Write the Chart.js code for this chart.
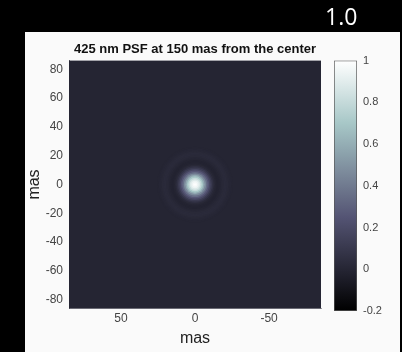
<!DOCTYPE html>
<html>
<head>
<meta charset="utf-8">
<script src="https://cdn.jsdelivr.net/npm/chart.js@4"></script>
<style>
  html, body { margin: 0; padding: 0; background: #000; }
  #wrap { position: relative; width: 402px; height: 352px; overflow: hidden; background: #000; }
  #panel { position: absolute; left: 25px; top: 32px; width: 375px; height: 320px; background: #fafafa; }
  canvas { position: absolute; }
  #psf { left: 0; top: 0; }
  #cbar { left: 334px; top: 48px; }
  #tag { position: absolute; left: 325px; top: 5px; color: #fff; font: 23px/1 "Open Sans", sans-serif; }
</style>
</head>
<body>
<div id="wrap">
  <div id="panel"></div>
  <canvas id="psf" width="402" height="352"></canvas>
  <canvas id="cbar" width="68" height="276"></canvas>
  <div id="tag">1.0</div>
</div>
<script>
// radial profile of the PSF (mas -> normalised intensity)
const psfRadius = [0, 1, 2, 3, 4, 5, 6, 7, 8, 9, 10, 11, 12, 13, 14, 15, 16, 17, 18, 19, 20, 21, 22, 23, 24, 25];
const psfValue = [1.0, 0.98, 0.94, 0.88, 0.8, 0.7, 0.58, 0.46, 0.35, 0.26, 0.18, 0.11, 0.06, 0.02, 0.0, -0.01, -0.01, 0.0, 0.012, 0.02, 0.025, 0.025, 0.02, 0.012, 0.005, 0.0];
const backgroundValue = 0;

const xTicks = [50, 0, -50];
const yTicks = [-80, -60, -40, -20, 0, 20, 40, 60, 80];
const cbarTicks = [-0.2, 0, 0.2, 0.4, 0.6, 0.8, 1];
const cbarRange = [-0.2, 1];

const FONT = "'Liberation Sans', Arial, sans-serif";

// matlab "bone" colormap
const clamp = v => Math.max(0, Math.min(1, v));
const bone = t => {
  t = clamp(t);
  const r = (7 * t + clamp((t - 0.75) / 0.25)) / 8;
  const g = (7 * t + clamp((t - 0.375) / 0.375)) / 8;
  const b = (7 * t + clamp(t / 0.375)) / 8;
  return `rgb(${Math.round(r * 255)},${Math.round(g * 255)},${Math.round(b * 255)})`;
};
const toT = v => (v - cbarRange[0]) / (cbarRange[1] - cbarRange[0]);

// outer rings first so the core ends up on top
const ringR = psfRadius.slice().reverse();
const ringV = psfValue.slice().reverse();

const fillArea = {
  id: "fillArea",
  beforeDatasetsDraw(chart) {
    const { ctx, chartArea: a } = chart;
    ctx.save();
    ctx.fillStyle = bone(toT(backgroundValue));
    ctx.fillRect(a.left, a.top, a.right - a.left, a.bottom - a.top);
    ctx.restore();
  }
};

const ringRadius = ctx => {
  const s = ctx.chart.scales.x;
  return Math.abs(s.getPixelForValue(ringR[ctx.dataIndex] + 0.5) - s.getPixelForValue(0));
};

new Chart(document.getElementById("psf"), {
  type: "scatter",
  data: {
    datasets: [{
      data: ringR.map(() => ({ x: 0, y: 0 })),
      backgroundColor: ringV.map(v => bone(toT(v))),
      pointRadius: ringRadius,
      pointHoverRadius: ringRadius,
      pointBorderWidth: 0,
      pointHoverBorderWidth: 0
    }]
  },
  options: {
    responsive: false,
    animation: false,
    events: [],
    layout: { padding: { left: 25, right: 81, top: 42, bottom: 0 } },
    plugins: {
      legend: { display: false },
      tooltip: { enabled: false },
      title: {
        display: true,
        fullSize: false,
        text: "425 nm PSF at 150 mas from the center",
        color: "#111",
        font: { family: FONT, size: 13, weight: "bold" },
        padding: { top: 0, bottom: 3 }
      }
    },
    scales: {
      x: {
        type: "linear",
        min: -85,
        max: 85,
        reverse: true,
        grid: { display: false, drawTicks: false },
        border: { color: "#9a9aa0" },
        afterBuildTicks: s => { s.ticks = xTicks.map(v => ({ value: v })); },
        ticks: { color: "#444", padding: 3, font: { family: FONT, size: 12 } },
        title: { display: true, text: "mas", color: "#222", font: { family: FONT, size: 16 }, padding: { top: 0, bottom: 4 } }
      },
      y: {
        type: "linear",
        min: -86,
        max: 86,
        grid: { display: false, drawTicks: false },
        border: { color: "#6a6a70" },
        afterBuildTicks: s => { s.ticks = yTicks.map(v => ({ value: v })); },
        afterFit: s => { s.width = 44; },
        ticks: { color: "#444", padding: 6, font: { family: FONT, size: 12 } },
        title: { display: true, text: "mas", color: "#222", font: { family: FONT, size: 16 }, padding: 0 }
      }
    }
  },
  plugins: [fillArea]
});

const cbarFill = ctx => {
  const chart = ctx.chart;
  if (!chart.chartArea) return bone(0.5);
  const y = chart.scales.y;
  const g = chart.ctx.createLinearGradient(0, y.getPixelForValue(cbarRange[0]), 0, y.getPixelForValue(cbarRange[1]));
  for (let i = 0; i <= 16; i++) g.addColorStop(i / 16, bone(i / 16));
  return g;
};

new Chart(document.getElementById("cbar"), {
  type: "bar",
  data: {
    labels: [""],
    datasets: [{
      data: [cbarRange],
      backgroundColor: cbarFill,
      borderColor: "#555",
      borderWidth: 1,
      borderSkipped: false,
      barPercentage: 1,
      categoryPercentage: 1
    }]
  },
  options: {
    responsive: false,
    animation: false,
    events: [],
    layout: { padding: { left: 0, right: 0, top: 12, bottom: 13 } },
    plugins: { legend: { display: false }, tooltip: { enabled: false } },
    scales: {
      x: { display: false },
      y: {
        position: "right",
        min: cbarRange[0],
        max: cbarRange[1],
        grid: { display: false, drawTicks: false },
        border: { display: false },
        afterBuildTicks: s => { s.ticks = cbarTicks.map(v => ({ value: v })); },
        afterFit: s => { s.width = 45; },
        ticks: {
          color: "#444",
          padding: 6,
          font: { family: FONT, size: 11 },
          callback: v => String(Math.round(v * 10) / 10)
        }
      }
    }
  }
});
</script>
</body>
</html>
